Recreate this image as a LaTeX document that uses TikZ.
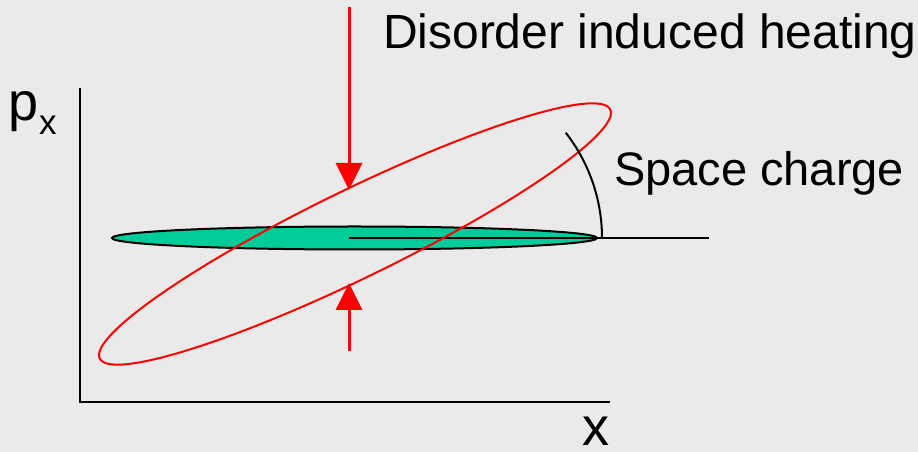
\documentclass[tikz,border=0pt]{standalone}
\usepackage{fontspec}
\setmainfont{Liberation Sans}
\usepackage{tikz}
\usetikzlibrary{
  arrows.meta,
  positioning,
  calc
}
\definecolor{phBack}{HTML}{EAEAEA}
\definecolor{phBeam}{HTML}{00CC99}
\definecolor{phHeat}{HTML}{FF0000}

\tikzset{
  bigtext/.style={anchor=base west, inner sep=0pt, font=\fontsize{48}{56}\selectfont},
  heatarrow/.style={draw=phHeat, line width=3pt, -{Triangle[width=26pt,length=27pt]}}
}

\begin{document}
\begin{tikzpicture}[x=1pt, y=1pt, line width=2pt]
  \path[use as bounding box, fill=phBack] (0,0) rectangle (918,452);

  % axes
  \coordinate (origin) at (80,50);
  \coordinate (pTop) at (80,364);
  \coordinate (xEnd) at (610,50);
  \draw (pTop) -- (origin) -- (xEnd);
  \node[bigtext, font=\fontsize{54}{60}\selectfont] (pLabel) at (8,331) {p\raisebox{-14pt}{\fontsize{35}{40}\selectfont x}};
  \node[bigtext, font=\fontsize{54}{60}\selectfont] (xLabel) at (581,6) {x};

  % beams
  \filldraw[fill=phBeam, draw=black] (354.5,214) ellipse [x radius=242.5, y radius=11.5];
  \coordinate (refStart) at (349,214);
  \coordinate (refEnd) at (709,214);
  \draw (refStart) -- (refEnd);
  \draw[phHeat] (355,218) ellipse [x radius=284, y radius=44, rotate=26];

  % rotation angle
  \coordinate (arcStart) at (602,214);
  \draw (arcStart) arc [start angle=0, end angle=38, radius=171];
  \node[bigtext, font=\fontsize{47}{56}\selectfont] (spaceLabel) at (613,266) {Space charge};

  % heating
  \coordinate (heatTop) at (349,445);
  \coordinate (heatTipA) at (349,262);
  \coordinate (heatBot) at (349,101);
  \coordinate (heatTipB) at (349,169);
  \draw[heatarrow] (heatTop) -- (heatTipA);
  \draw[heatarrow] (heatBot) -- (heatTipB);
  \node[bigtext] (heatLabel) at (382,403) {Disorder induced heating};
\end{tikzpicture}
\end{document}
